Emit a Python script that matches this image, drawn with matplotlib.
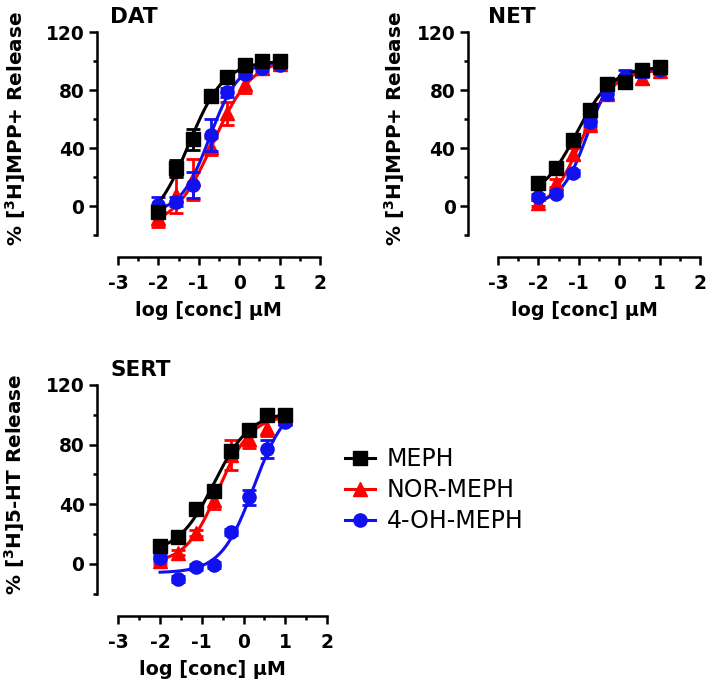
import numpy as np
import matplotlib
matplotlib.use('Agg')
import matplotlib.pyplot as plt
from matplotlib.lines import Line2D

plt.rcParams['font.family'] = ['DejaVu Sans']
plt.rcParams['mathtext.fontset'] = 'dejavusans'

# log concentrations (µM)
log_conc = [-2.0, -1.57, -1.14, -0.71, -0.29, 0.14, 0.57, 1.0]

drugs = ['MEPH', 'NOR-MEPH', '4-OH-MEPH']
colors = ['#000000', '#FF0000', '#1010F0']
markers = ['s', '^', 'o']

# DAT  (% [3H]MPP+ release)
dat_meph = [-4, 26, 46, 76, 89, 97, 100, 100]
dat_nor = [-8, 8, 18.5, 41, 64, 84, 95, 98]
dat_oh = [1, 3, 14.5, 49, 78.5, 91, 95, 97]
dat_meph_err = [4, 6, 7, 3, 3, 2, 2, 2]
dat_nor_err = [6, 13, 14, 6, 8, 6, 4, 3]
dat_oh_err = [5, 3, 9, 11, 3, 3, 2, 2]

# NET  (% [3H]MPP+ release)
net_meph = [16, 26.5, 45.5, 66, 84, 85.5, 93.5, 96]
net_nor = [2, 16, 36, 56, 77, 87, 88, 93]
net_oh = [6.4, 8.7, 22.6, 58, 77, 89, 93, 94]
net_meph_err = [2, 2, 2, 3, 3, 2, 2, 2]
net_nor_err = [2, 3, 4, 3, 3, 3, 4, 2]
net_oh_err = [2, 2, 2, 3, 3, 5, 4, 2]

# SERT (% [3H]5-HT release)
sert_meph = [12, 18, 37, 49, 76, 90, 100, 100]
sert_nor = [2, 7.6, 21, 43, 73, 84, 91, 98]
sert_oh = [3.8, -10.3, -2, -1, 21.6, 44.7, 77.3, 95.3]
sert_meph_err = [2, 2, 2, 3, 3, 2, 2, 2]
sert_nor_err = [2, 2, 2, 6, 10, 6, 5, 2]
sert_oh_err = [2, 2, 2, 2, 2, 5, 6, 2]

# fitted curve parameters: bottom, top, logEC50, hill slope
dat_fits = [(-15, 100, -1.25, 1.0), (-15, 102, -0.65, 0.9), (-5, 100, -0.73, 1.2)]
net_fits = [(5, 96, -1.05, 1.0), (-5, 94, -0.95, 1.1), (2, 95, -0.8, 1.4)]
sert_fits = [(7, 102, -0.7, 1.0), (0, 100, -0.6, 1.1), (-6, 110, 0.25, 1.1)]

x_major = [-3, -2, -1, 0, 1, 2]
x_minor = [-2.5, -1.5, -0.5, 0.5, 1.5]
y_major = [0, 40, 80, 120]
y_minor = [-20, 20, 60, 100]

W, H = 709, 686
fig = plt.figure(figsize=(W / 100, H / 100), dpi=100)


def px_axes(left, right, top, bottom):
    return fig.add_axes([left / W, 1 - bottom / H, (right - left) / W, (bottom - top) / H])


def logistic(x, bottom, top, logec50, hill):
    return bottom + (top - bottom) / (1 + 10 ** ((logec50 - x) * hill))


def panel(ax, title, ylabel, data, errs, fits, xleft, lab_x, title_x):
    xs = np.linspace(min(log_conc), max(log_conc), 200)
    order = [1, 2, 0]  # red, blue, black on top
    for z, k in enumerate(order):
        b, t, ec, h = fits[k]
        ax.plot(xs, logistic(xs, b, t, ec, h), color=colors[k], lw=2.2, zorder=2 + z)
        ax.errorbar(log_conc, data[k], yerr=errs[k], fmt=markers[k], color=colors[k],
                    ms=9.5 if markers[k] != '^' else 10, capsize=5, capthick=2, elinewidth=2,
                    zorder=3 + z)
    ax.set_xlim(xleft, 2)
    ax.set_ylim(-35, 120)
    for s in ['top', 'right']:
        ax.spines[s].set_visible(False)
    ax.spines['left'].set_bounds(-20, 120)
    ax.spines['bottom'].set_bounds(-3, 2)
    for s in ['left', 'bottom']:
        ax.spines[s].set_linewidth(1.8)
    ax.set_xticks(x_major)
    ax.set_xticklabels([str(v) for v in x_major])
    ax.set_xticks(x_minor, minor=True)
    ax.set_yticks(y_major)
    ax.set_yticks(y_minor, minor=True)
    ax.tick_params(which='major', length=5.5, width=1.8, labelsize=13.4)
    ax.tick_params(which='minor', length=3.2, width=1.8)
    ax.tick_params(axis='x', which='major', pad=6.5)
    ax.tick_params(axis='y', which='major', pad=3.5)
    for lab in ax.get_xticklabels() + ax.get_yticklabels():
        lab.set_fontweight('bold')
    ax.set_xlabel('log [conc] µM', fontsize=13.8, fontweight='bold', labelpad=6)
    ax.set_ylabel(ylabel, fontsize=14.4, fontweight='bold')
    ax.yaxis.set_label_coords(lab_x, 0.57)
    ax.text(title_x, 1.04, title, transform=ax.transAxes, fontsize=15.5,
            fontweight='bold', ha='left', va='baseline')


ylab_mpp = r'% [$^{\mathbf{3}}$H]MPP+ Release'
ylab_5ht = r'% [$^{\mathbf{3}}$H]5-HT Release'

ax1 = px_axes(97, 320, 32, 257)
panel(ax1, 'DAT', ylab_mpp, [dat_meph, dat_nor, dat_oh],
      [dat_meph_err, dat_nor_err, dat_oh_err], dat_fits, -3.52, -0.31, 0.058)

ax2 = px_axes(468, 700, 32, 257)
panel(ax2, 'NET', ylab_mpp, [net_meph, net_nor, net_oh],
      [net_meph_err, net_nor_err, net_oh_err], net_fits, -3.74, -0.262, 0.086)

ax3 = px_axes(97, 327, 385, 616)
panel(ax3, 'SERT', ylab_5ht, [sert_meph, sert_nor, sert_oh],
      [sert_meph_err, sert_nor_err, sert_oh_err], sert_fits, -3.51, -0.305, 0.057)

handles = [Line2D([0], [0], color=colors[k], marker=markers[k], lw=2.2,
                  ms=9.5 if markers[k] != '^' else 10) for k in range(3)]
fig.legend(handles, drugs, loc='center left', bbox_to_anchor=(345 / W, 1 - 490 / H),
           frameon=False, fontsize=17, handlelength=1.27, handletextpad=0.5,
           labelspacing=0.3, borderpad=0, borderaxespad=0)

fig.savefig('out.png', dpi=100)
